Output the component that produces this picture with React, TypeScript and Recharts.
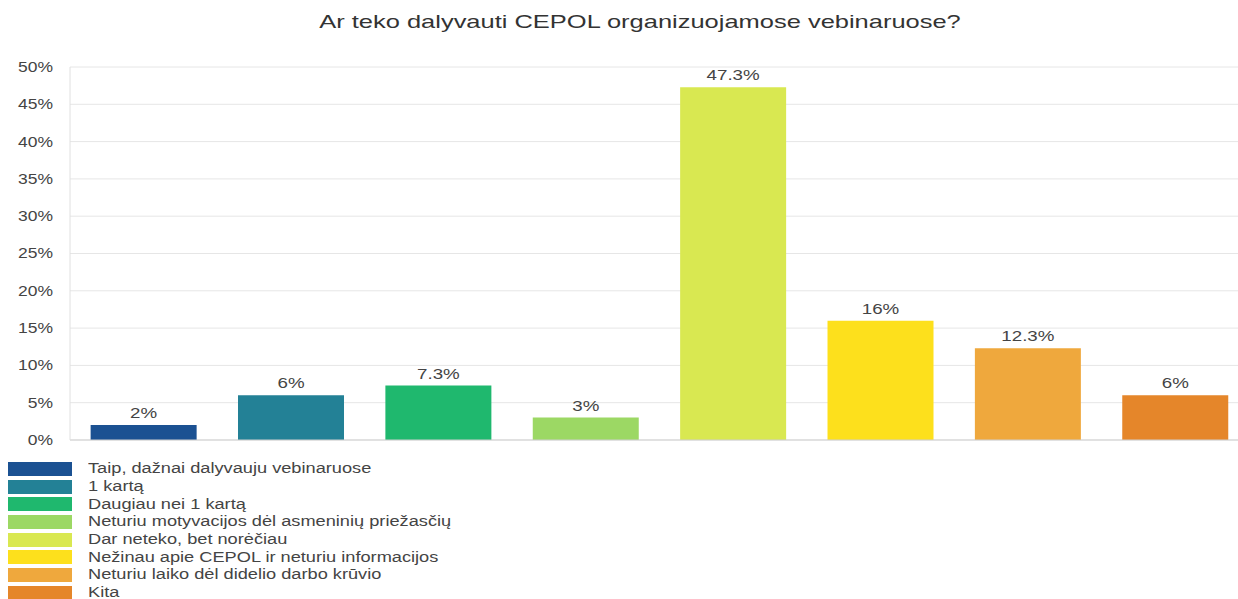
import { BarChart, Bar, Cell, XAxis, YAxis, CartesianGrid, LabelList } from "recharts";

// Ar teko dalyvauti CEPOL organizuojamose vebinaruose?
const categories = [
  "Taip, dažnai dalyvauju vebinaruose",
  "1 kartą",
  "Daugiau nei 1 kartą",
  "Neturiu motyvacijos dėl asmeninių priežasčių",
  "Dar neteko, bet norėčiau",
  "Nežinau apie CEPOL ir neturiu informacijos",
  "Neturiu laiko dėl didelio darbo krūvio",
  "Kita",
];
const values = [2, 6, 7.3, 3, 47.3, 16, 12.3, 6];
const colors = ["#1b5192", "#238196", "#1fb86e", "#9cd864", "#d9e851", "#fde01c", "#efa83d", "#e5862a"];
const yTicks = [0, 5, 10, 15, 20, 25, 30, 35, 40, 45, 50];

const data = categories.map((name, i) => ({ name, value: values[i] }));

const FONT = "Arial, 'Liberation Sans', sans-serif";
// the original text looks stretched sideways
const SX = 1.25;

const YTick = (props: any) => {
  const { x, y, payload } = props;
  return (
    <text
      transform={`translate(${x},${y}) scale(${SX},1)`}
      textAnchor="end"
      dy="0.35em"
      fill="#444"
      fontSize={14}
      fontFamily={FONT}
    >
      {`${payload.value}%`}
    </text>
  );
};

const BarLabel = (props: any) => {
  const { x, y, width, value } = props;
  return (
    <text
      transform={`translate(${x + width / 2},${y - 7}) scale(${SX},1)`}
      textAnchor="middle"
      fill="#444"
      fontSize={15}
      fontFamily={FONT}
    >
      {`${value}%`}
    </text>
  );
};

export default function App() {
  return (
    <div
      style={{
        position: "absolute",
        left: 0,
        top: 0,
        width: 1238,
        height: 599,
        overflow: "hidden",
        background: "#fff",
        fontFamily: FONT,
      }}
    >
      <div
        style={{
          position: "absolute",
          left: 0,
          top: 11,
          width: 1280,
          textAlign: "center",
          fontSize: 19,
          lineHeight: "22px",
          color: "#333",
          transform: "scaleX(1.34)",
          transformOrigin: "640px 0",
        }}
      >
        Ar teko dalyvauti CEPOL organizuojamose vebinaruose?
      </div>

      <div style={{ position: "absolute", left: 0, top: 0 }}>
        <BarChart
          width={1249}
          height={452}
          data={data}
          margin={{ top: 67, right: 0, bottom: 10, left: 0 }}
          barCategoryGap="14%"
        >
          <CartesianGrid vertical={false} stroke="#e6e6e6" />
          <XAxis dataKey="name" tick={false} tickLine={false} height={2} axisLine={{ stroke: "#cfcfcf" }} />
          <YAxis
            width={70}
            domain={[0, 50]}
            ticks={yTicks}
            interval={0}
            tickLine={false}
            tickMargin={11}
            axisLine={{ stroke: "#e0e0e0" }}
            tick={<YTick />}
          />
          <Bar dataKey="value" isAnimationActive={false}>
            {data.map((d, i) => (
              <Cell key={d.name} fill={colors[i]} />
            ))}
            <LabelList dataKey="value" content={<BarLabel />} />
          </Bar>
        </BarChart>
      </div>

      <div style={{ position: "absolute", left: 8, top: 460 }}>
        {categories.map((c, i) => (
          <div key={c} style={{ display: "flex", alignItems: "center", height: 17.7 }}>
            <div style={{ width: 64, height: 14, background: colors[i], marginRight: 16, flexShrink: 0 }} />
            <span
              style={{
                fontSize: 14,
                color: "#444",
                lineHeight: "17px",
                whiteSpace: "nowrap",
                display: "inline-block",
                transform: "scaleX(1.3)",
                transformOrigin: "0 0",
              }}
            >
              {c}
            </span>
          </div>
        ))}
      </div>
    </div>
  );
}
